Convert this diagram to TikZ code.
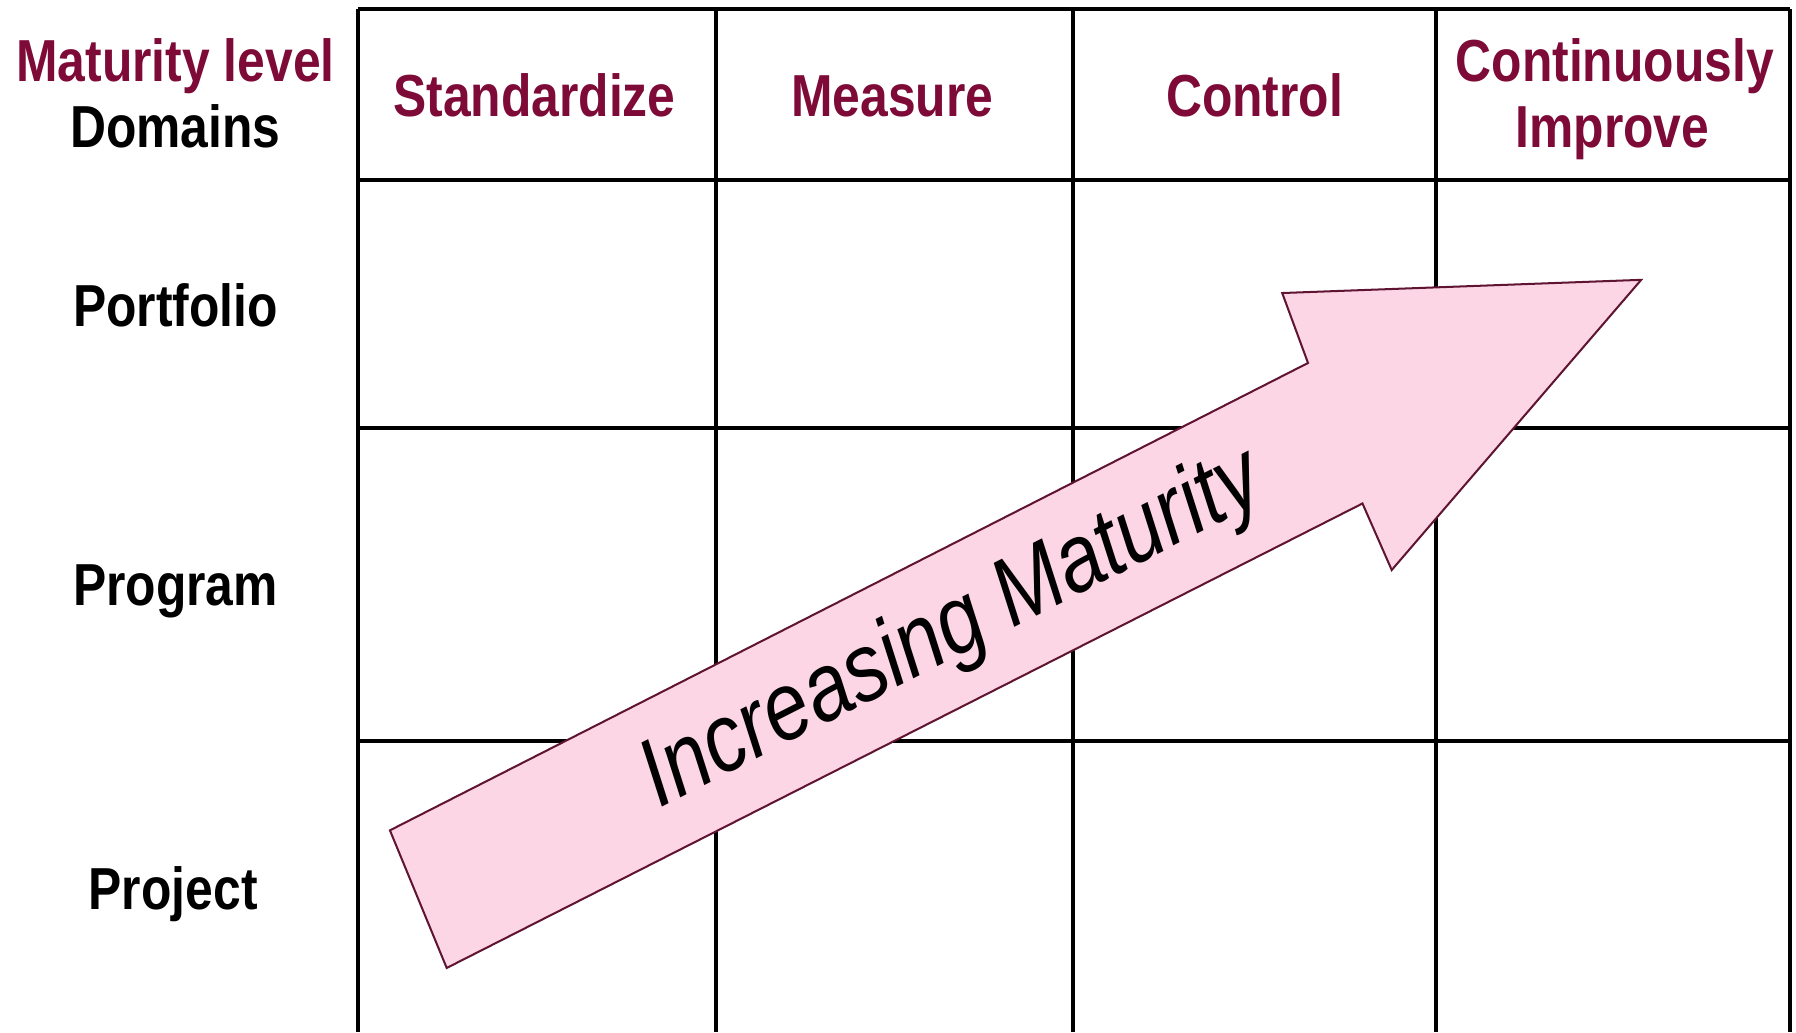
\documentclass[tikz,border=0pt]{standalone}
\usepackage{fontspec}
\setmainfont{Liberation Sans}
\newfontfamily\cellfont[FakeStretch=0.84]{Liberation Sans}
\usepackage{tikz}
\definecolor{headred}{RGB}{125,10,55}
\definecolor{pinkfill}{RGB}{252,214,228}
\definecolor{arrowline}{RGB}{95,20,50}
\tikzset{
    every node/.style={inner sep=0pt, anchor=base,
    	font=\cellfont\bfseries\fontsize{14.7}{17}\selectfont}
}
\tikzset{
    head/.style={text=headred},
    grid line/.style={line width=1pt},
    arrow body/.style={fill=pinkfill, draw=arrowline, line width=0.5pt}
}

\begin{document}
\begin{tikzpicture}[x=0.01cm, y=-0.01cm]
	\useasboundingbox (0,0) rectangle (1566,900);
	% table lines
	\draw[grid line] (312,8) -- (1561,8);
	\draw[grid line] (312,157) -- (1561,157);
	\draw[grid line] (312,373) -- (1561,373);
	\draw[grid line] (312,646) -- (1561,646);
	\draw[grid line] (312,8) -- (312,900); \draw[grid line] (624,8) -- (624,900);
	\draw[grid line] (936,8) -- (936,900); \draw[grid line] (1252,8) -- (1252,900);
	\draw[grid line] (1561,8) -- (1561,900);

	% header row
	\node (level) [head] at (153,71) {Maturity level};
	\node (dom) at (153,129) {Domains};
	\node (std) [head] at (466,102) {Standardize};
	\node (meas) [head] at (778,102) {Measure};
	\node (ctrl) [head] at (1094,102) {Control};
	\node (cont) [head] at (1408,71) {Continuously};
	\node (impr) [head] at (1406,129) {Improve};

	% domains
	\node (port) at (153,285) {Portfolio};
	\node (prog) at (153,528) {Program};
	\node (proj) at (151,793) {Project};

	% big arrow
	\coordinate (t1) at (340,724); \coordinate (s1) at (1140.5,316.5);
	\coordinate (h1) at (1118,255.5); \coordinate (tip) at (1431,244);
	\coordinate (h2) at (1213.5,497); \coordinate (s2) at (1188,439);
	\coordinate (t2) at (389.5,844);
	\draw[arrow body] (t1) -- (s1) -- (h1) -- (tip) -- (h2) -- (s2) -- (t2) -- cycle;
	\node (incr) [anchor=center, rotate=27,
		font=\cellfont\itshape\fontsize{23.9}{28}\selectfont] at (831,550) {Increasing Maturity};
\end{tikzpicture}
\end{document}
